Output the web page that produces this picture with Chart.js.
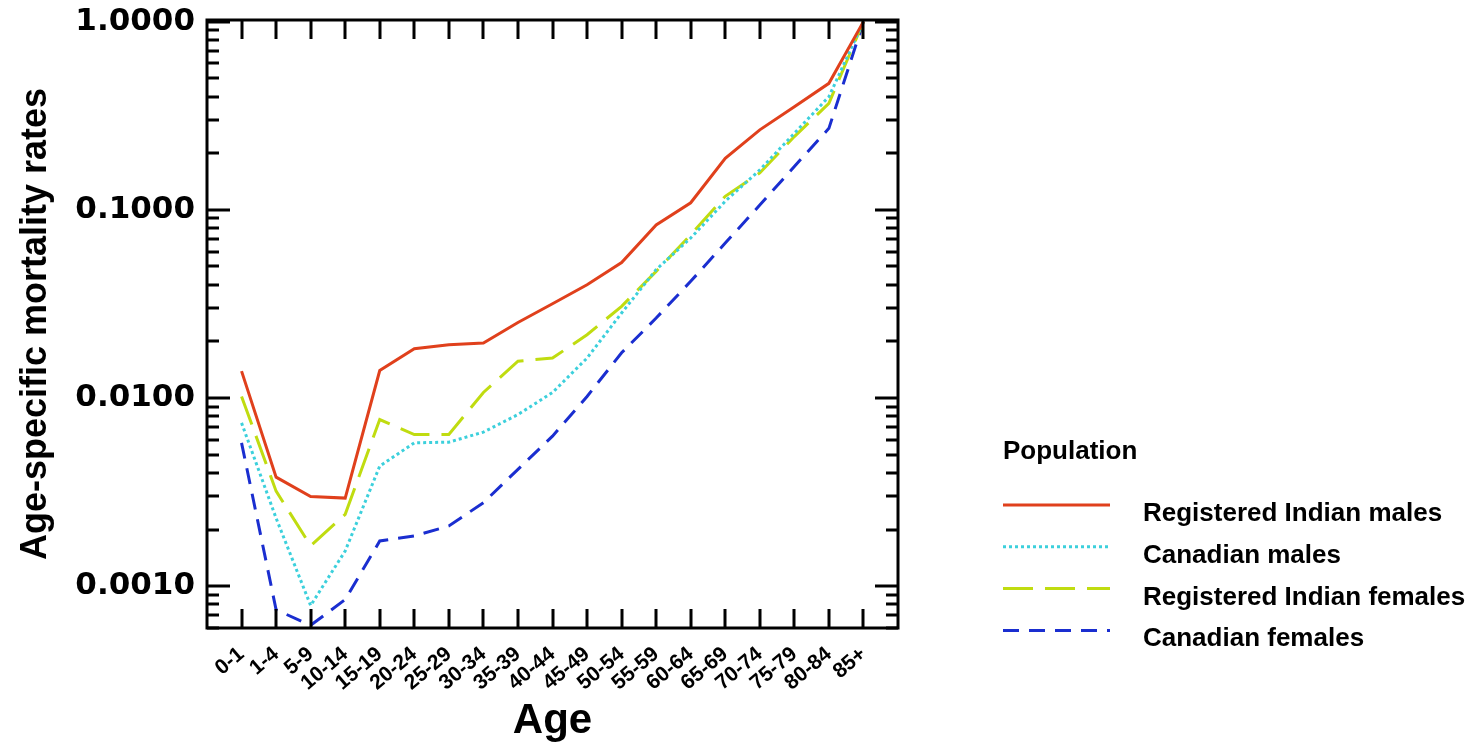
<!DOCTYPE html>
<html>
<head>
<meta charset="utf-8">
<title>Age-specific mortality rates</title>
<script src="https://cdn.jsdelivr.net/npm/chart.js@4"></script>
<style>
  html, body { margin: 0; padding: 0; background: #fff; }
  #wrap { width: 1481px; height: 749px; position: relative; }
</style>
</head>
<body>
<div id="wrap"><canvas id="mortalityChart"></canvas></div>
<script>
// Age groups on the x axis
const ageGroups = ["0-1", "1-4", "5-9", "10-14", "15-19", "20-24", "25-29", "30-34", "35-39",
  "40-44", "45-49", "50-54", "55-59", "60-64", "65-69", "70-74", "75-79", "80-84", "85+"];

// Age-specific mortality rates per population
const indianMales = [0.0139, 0.0038, 0.0030, 0.00294, 0.0140, 0.0183, 0.0192, 0.0196, 0.0252,
  0.0317, 0.0400, 0.0525, 0.0832, 0.109, 0.188, 0.266, 0.353, 0.470, 1.0];
const canadianMales = [0.00738, 0.0023, 0.00079, 0.00154, 0.00435, 0.00578, 0.00583, 0.00659, 0.00817,
  0.0107, 0.0163, 0.0283, 0.0481, 0.0708, 0.111, 0.163, 0.255, 0.399, 1.0];
const indianFemales = [0.0102, 0.0032, 0.00164, 0.00241, 0.00769, 0.0064, 0.0064, 0.0107, 0.0157,
  0.0163, 0.0217, 0.0307, 0.0471, 0.0737, 0.118, 0.157, 0.245, 0.368, 1.0];
const canadianFemales = [0.00578, 0.00075, 0.00062, 0.00085, 0.00174, 0.00185, 0.00209, 0.00278, 0.00418,
  0.00627, 0.0102, 0.0174, 0.0266, 0.0417, 0.0666, 0.106, 0.170, 0.271, 1.0];

// Labelled y ticks
const yTicks = [0.001, 0.01, 0.1, 1];

function toPoints(values) {
  return values.map((v, i) => ({ x: i, y: v }));
}

// Box around the plot with inward tick marks on all four sides
const frameTicks = {
  id: "frameTicks",
  afterDatasetsDraw(chart) {
    const { ctx, chartArea: a, scales } = chart;
    const xs = scales.x;
    const ys = scales.y;
    ctx.save();
    ctx.strokeStyle = "#000";
    ctx.lineWidth = 3;
    ctx.beginPath();
    xs.ticks.forEach(function (t) {
      const px = Math.round(xs.getPixelForValue(t.value));
      ctx.moveTo(px, a.bottom);
      ctx.lineTo(px, a.bottom - 19);
      ctx.moveTo(px, a.top);
      ctx.lineTo(px, a.top + 19);
    });
    for (let e = -4; e <= 0; e++) {
      for (let m = 1; m <= 9; m++) {
        const v = m * Math.pow(10, e);
        if (v < ys.min || v > ys.max) continue;
        const py = Math.round(ys.getPixelForValue(v));
        const len = m === 1 ? 23 : 12;
        ctx.moveTo(a.left, py);
        ctx.lineTo(a.left + len, py);
        ctx.moveTo(a.right, py);
        ctx.lineTo(a.right - len, py);
      }
    }
    ctx.stroke();
    ctx.strokeRect(a.left, a.top, a.width, a.height);
    ctx.restore();
  },
};

// Legend block on the right
const populationLegend = {
  id: "populationLegend",
  afterDraw(chart) {
    const ctx = chart.ctx;
    ctx.save();
    ctx.fillStyle = "#000";
    ctx.font = "bold 26px 'Liberation Sans', Arial, sans-serif";
    ctx.textBaseline = "alphabetic";
    ctx.fillText("Population", 1003, 459);
    chart.data.datasets.forEach(function (ds, i) {
      const ly = 505 + i * 41.8;
      ctx.strokeStyle = ds.borderColor;
      ctx.lineWidth = ds.borderWidth;
      ctx.setLineDash(ds.borderDash || []);
      ctx.beginPath();
      ctx.moveTo(1003, ly);
      ctx.lineTo(1110, ly);
      ctx.stroke();
      ctx.setLineDash([]);
      ctx.fillText(ds.label, 1143, ly + 16);
    });
    ctx.restore();
  },
};

const ctx = document.getElementById("mortalityChart").getContext("2d");
const mortalityChart = new Chart(ctx, {
  type: "line",
  data: {
    datasets: [
      {
        label: "Registered Indian males",
        data: toPoints(indianMales),
        borderColor: "#e0401c",
        borderWidth: 3,
      },
      {
        label: "Canadian males",
        data: toPoints(canadianMales),
        borderColor: "#3cd0dc",
        borderWidth: 3,
        borderDash: [3, 3],
      },
      {
        label: "Registered Indian females",
        data: toPoints(indianFemales),
        borderColor: "#c0dc10",
        borderWidth: 3,
        borderDash: [30, 12],
      },
      {
        label: "Canadian females",
        data: toPoints(canadianFemales),
        borderColor: "#1a2ed0",
        borderWidth: 3,
        borderDash: [16, 10],
      },
    ],
  },
  options: {
    responsive: true,
    maintainAspectRatio: false,
    animation: false,
    layout: { padding: { top: 20, right: 583, bottom: 0, left: 14 } },
    elements: {
      point: { radius: 0 },
      line: { tension: 0, fill: false },
    },
    plugins: {
      legend: { display: false },
      tooltip: { enabled: false },
    },
    scales: {
      x: {
        type: "linear",
        min: -1,
        max: 19,
        afterBuildTicks: function (scale) {
          scale.ticks = ageGroups.map((_, i) => ({ value: i }));
        },
        afterFit: function (scale) {
          scale.height = 121;
          scale.paddingLeft = 0;
          scale.paddingRight = 0;
        },
        grid: { display: false, drawTicks: false },
        border: { display: false },
        ticks: {
          autoSkip: false,
          minRotation: 40,
          maxRotation: 40,
          padding: 14,
          color: "#000",
          font: { family: "'Liberation Sans', Arial, sans-serif", size: 21, weight: "bold" },
          callback: (v) => ageGroups[v] ?? "",
        },
        title: {
          display: true,
          text: "Age",
          color: "#000",
          font: { family: "'Liberation Sans', Arial, sans-serif", size: 42, weight: "bold" },
          padding: { top: 0, bottom: 2 },
        },
      },
      y: {
        type: "logarithmic",
        min: 0.0006,
        max: 1.02,
        afterBuildTicks: function (scale) {
          scale.ticks = yTicks.map((v) => ({ value: v }));
        },
        afterFit: function (scale) {
          scale.width = 193;
          scale.paddingTop = 0;
          scale.paddingBottom = 0;
        },
        grid: { display: false, drawTicks: false },
        border: { display: false },
        ticks: {
          padding: 12,
          color: "#000",
          font: { family: "'DejaVu Sans', sans-serif", size: 31, weight: "bold" },
          callback: (v) => Number(v).toFixed(4),
        },
        title: {
          display: true,
          text: "Age-specific mortality rates",
          color: "#000",
          font: { family: "'Liberation Sans', Arial, sans-serif", size: 36, weight: "bold" },
          padding: { top: 0, bottom: 0 },
        },
      },
    },
  },
  plugins: [frameTicks, populationLegend],
});
</script>
</body>
</html>
